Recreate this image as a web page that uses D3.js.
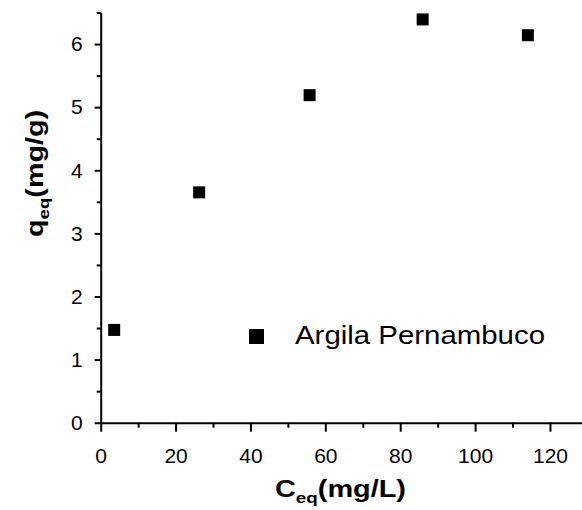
<!DOCTYPE html>
<html>
<head>
<meta charset="utf-8">
<script src="https://cdn.jsdelivr.net/npm/d3@7"></script>
<style>
  body { margin: 0; background: #fff; }
  svg { display: block; font-family: "Liberation Sans", Arial, sans-serif; }
  .axis path, .axis line { stroke: #000; stroke-width: 2; }
  .axis text { fill: #000; font-size: 21px; }
</style>
</head>
<body>
<div id="chart"></div>
<script>
// data
var ceq = [3.6, 26.3, 55.8, 86.0, 114.1]
var qeq = [1.47, 3.65, 5.19, 6.39, 6.14]
var seriesName = "Argila Pernambuco"
var xTicks = [0, 20, 40, 60, 80, 100, 120]
var yTicks = [0, 1, 2, 3, 4, 5, 6]

var width = 582, height = 510

var x = d3.scaleLinear().domain([0, 130]).range([100.7, 587.4])
var y = d3.scaleLinear().domain([0, 6.5]).range([422.7, 12.5])

var svg = d3.select("#chart")
    .append("svg")
    .attr("width", width)
    .attr("height", height)

// minor ticks
svg.append("g")
    .attr("class", "axis")
    .attr("transform", "translate(0," + y(0) + ")")
    .call(d3.axisBottom(x).tickValues(d3.range(10, 130, 20)).tickSize(5).tickSizeOuter(0).tickFormat(""))
    .select(".domain").remove()

svg.append("g")
    .attr("class", "axis")
    .attr("transform", "translate(" + x(0) + ",0)")
    .call(d3.axisLeft(y).tickValues(d3.range(0.5, 7, 1)).tickSize(4).tickSizeOuter(0).tickFormat(""))
    .select(".domain").remove()

// major axes
svg.append("g")
    .attr("class", "axis")
    .attr("transform", "translate(0," + y(0) + ")")
    .call(d3.axisBottom(x).tickValues(xTicks).tickSize(9).tickSizeOuter(0).tickPadding(16).tickFormat(d3.format("d")))

svg.append("g")
    .attr("class", "axis")
    .attr("transform", "translate(" + x(0) + ",0)")
    .call(d3.axisLeft(y).tickValues(yTicks).tickSize(6).tickSizeOuter(0).tickPadding(12).tickFormat(d3.format("d")))

// points
var data = ceq.map(function(d, i) { return {c: d, q: qeq[i]} })
var s = 12

svg.selectAll(".pt")
    .data(data)
    .enter().append("rect")
    .attr("class", "pt")
    .attr("x", function(d) { return x(d.c) - s / 2 })
    .attr("y", function(d) { return y(d.q) - s / 2 })
    .attr("width", s)
    .attr("height", s)
    .attr("fill", "#000")

// legend
svg.append("rect")
    .attr("x", 249).attr("y", 329)
    .attr("width", 15).attr("height", 15)
    .attr("fill", "#000")

svg.append("text")
    .attr("x", 295).attr("y", 344)
    .attr("font-size", "26px")
    .attr("textLength", 250)
    .attr("lengthAdjust", "spacingAndGlyphs")
    .text(seriesName)

// axis titles
var xt = svg.append("text")
    .attr("x", 275).attr("y", 497)
    .attr("font-size", "23px")
    .attr("font-weight", "bold")
    .attr("textLength", 131)
    .attr("lengthAdjust", "spacingAndGlyphs")
xt.append("tspan").text("C")
xt.append("tspan").attr("font-size", "15px").attr("dy", 6).text("eq")
xt.append("tspan").attr("dy", -6).text("(mg/L)")

var yt = svg.append("text")
    .attr("transform", "translate(43,237) rotate(-90)")
    .attr("font-size", "23px")
    .attr("font-weight", "bold")
    .attr("textLength", 127)
    .attr("lengthAdjust", "spacingAndGlyphs")
yt.append("tspan").text("q")
yt.append("tspan").attr("font-size", "15px").attr("dy", 6).text("eq")
yt.append("tspan").attr("dy", -6).text("(mg/g)")
</script>
</body>
</html>
